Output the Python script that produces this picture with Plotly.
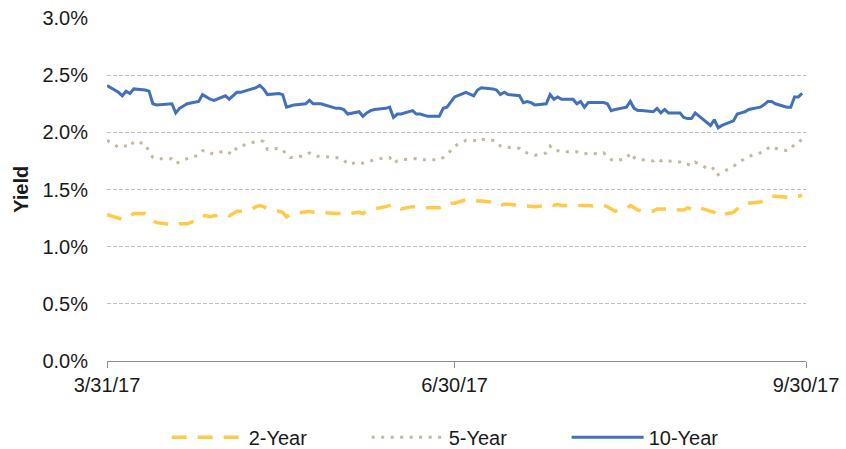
import plotly.graph_objects as go

# ---- trading days (3/31/17 - 9/29/17) ----
mar_days = [31]
apr_days = [3, 4, 5, 6, 7, 10, 11, 12, 13, 17, 18, 19, 20, 21, 24, 25, 26, 27, 28]
may_days = [1, 2, 3, 4, 5, 8, 9, 10, 11, 12, 15, 16, 17, 18, 19, 22, 23, 24, 25, 26, 30, 31]
jun_days = [1, 2, 5, 6, 7, 8, 9, 12, 13, 14, 15, 16, 19, 20, 21, 22, 23, 26, 27, 28, 29, 30]
jul_days = [3, 5, 6, 7, 10, 11, 12, 13, 14, 17, 18, 19, 20, 21, 24, 25, 26, 27, 28, 31]
aug_days = [1, 2, 3, 4, 7, 8, 9, 10, 11, 14, 15, 16, 17, 18, 21, 22, 23, 24, 25, 28, 29, 30, 31]
sep_days = [1, 5, 6, 7, 8, 11, 12, 13, 14, 15, 18, 19, 20, 21, 22, 25, 26, 27, 28, 29]

dates = []
for m, days in [(3, mar_days), (4, apr_days), (5, may_days), (6, jun_days),
                (7, jul_days), (8, aug_days), (9, sep_days)]:
    dates += [f"2017-{m:02d}-{d:02d}" for d in days]

# ---- yields (%) ----
y2 = [1.28,
      1.25, 1.24, 1.25, 1.26, 1.29, 1.29, 1.27, 1.23, 1.21, 1.20, 1.19, 1.20, 1.20, 1.20, 1.24, 1.27, 1.27, 1.26, 1.27,
      1.28, 1.27, 1.29, 1.31, 1.31, 1.33, 1.35, 1.36, 1.35, 1.33, 1.31, 1.30, 1.26, 1.28, 1.29, 1.30, 1.31, 1.30, 1.30, 1.30, 1.29, 1.29,
      1.29, 1.29, 1.30, 1.29, 1.31, 1.32, 1.33, 1.35, 1.36, 1.37, 1.35, 1.33, 1.35, 1.35, 1.35, 1.34, 1.34, 1.34, 1.36, 1.36, 1.38, 1.38,
      1.41, 1.41, 1.40, 1.40, 1.39, 1.38, 1.36, 1.37, 1.37, 1.36, 1.36, 1.35, 1.35, 1.35, 1.36, 1.37, 1.36, 1.37, 1.36, 1.36,
      1.36, 1.36, 1.36, 1.36, 1.35, 1.36, 1.35, 1.33, 1.31, 1.33, 1.36, 1.34, 1.32, 1.31, 1.31, 1.33, 1.33, 1.33, 1.33, 1.32, 1.32, 1.34, 1.33,
      1.35, 1.31, 1.30, 1.27, 1.28, 1.30, 1.33, 1.36, 1.37, 1.38, 1.39, 1.40, 1.43, 1.44, 1.44, 1.43, 1.43, 1.44, 1.44, 1.45]

y5 = [1.93,
      1.87, 1.88, 1.88, 1.87, 1.92, 1.90, 1.83, 1.78, 1.77, 1.77, 1.73, 1.74, 1.76, 1.77, 1.80, 1.84, 1.84, 1.82, 1.81,
      1.84, 1.82, 1.81, 1.87, 1.88, 1.91, 1.92, 1.93, 1.92, 1.85, 1.86, 1.85, 1.80, 1.78, 1.78, 1.80, 1.82, 1.80, 1.79, 1.79, 1.78, 1.77,
      1.76, 1.72, 1.74, 1.73, 1.74, 1.75, 1.76, 1.78, 1.78, 1.73, 1.75, 1.76, 1.77, 1.77, 1.76, 1.76, 1.76, 1.76, 1.78, 1.81, 1.84, 1.88,
      1.93, 1.93, 1.92, 1.94, 1.93, 1.92, 1.88, 1.88, 1.87, 1.86, 1.83, 1.82, 1.81, 1.80, 1.82, 1.88, 1.84, 1.84, 1.83, 1.83,
      1.83, 1.82, 1.81, 1.82, 1.81, 1.82, 1.79, 1.76, 1.75, 1.77, 1.82, 1.78, 1.76, 1.76, 1.75, 1.77, 1.75, 1.76, 1.75, 1.74, 1.72, 1.72, 1.71,
      1.74, 1.67, 1.69, 1.63, 1.65, 1.70, 1.73, 1.75, 1.77, 1.79, 1.82, 1.83, 1.86, 1.88, 1.86, 1.84, 1.85, 1.90, 1.91, 1.94]

y10 = [2.41,
       2.35, 2.32, 2.36, 2.34, 2.38, 2.37, 2.36, 2.25, 2.24, 2.25, 2.17, 2.21, 2.23, 2.25, 2.27, 2.33, 2.31, 2.29, 2.28,
       2.32, 2.29, 2.32, 2.35, 2.35, 2.38, 2.39, 2.41, 2.38, 2.33, 2.34, 2.33, 2.22, 2.23, 2.24, 2.25, 2.28, 2.25, 2.25, 2.25, 2.21, 2.21,
       2.20, 2.16, 2.18, 2.14, 2.17, 2.19, 2.20, 2.21, 2.22, 2.13, 2.16, 2.16, 2.19, 2.16, 2.16, 2.15, 2.14, 2.14, 2.21, 2.22, 2.27, 2.31,
       2.35, 2.32, 2.37, 2.39, 2.38, 2.37, 2.33, 2.35, 2.33, 2.32, 2.26, 2.27, 2.26, 2.24, 2.25, 2.33, 2.29, 2.31, 2.29, 2.29,
       2.25, 2.27, 2.22, 2.26, 2.26, 2.26, 2.25, 2.19, 2.20, 2.22, 2.27, 2.21, 2.19, 2.19, 2.18, 2.21, 2.17, 2.20, 2.17, 2.17, 2.13, 2.12, 2.12,
       2.17, 2.06, 2.11, 2.04, 2.06, 2.10, 2.16, 2.17, 2.18, 2.20, 2.22, 2.24, 2.27, 2.27, 2.25, 2.22, 2.22, 2.31, 2.31, 2.34]

series_names = ["2-Year", "5-Year", "10-Year"]
x_tick_vals = ["2017-03-31", "2017-06-30", "2017-09-30"]
x_tick_text = ["3/31/17", "6/30/17", "9/30/17"]
y_tick_vals = [0.0, 0.5, 1.0, 1.5, 2.0, 2.5, 3.0]
y_tick_text = ["0.0%", "0.5%", "1.0%", "1.5%", "2.0%", "2.5%", "3.0%"]
y_title = "Yield"

FONT = "Liberation Sans, Arial, sans-serif"

fig = go.Figure()
fig.add_trace(go.Scatter(x=dates, y=y2, name=series_names[0], mode="lines",
                         line=dict(color="#FFC94A", width=3.5, dash="15px,11px")))
fig.add_trace(go.Scatter(x=dates, y=y5, name=series_names[1], mode="lines",
                         line=dict(color="#C6B7A0", width=3, dash="3px,6.5px")))
fig.add_trace(go.Scatter(x=dates, y=y10, name=series_names[2], mode="lines",
                         line=dict(color="#4270BA", width=3)))

fig.update_layout(
    width=846, height=449,
    margin=dict(l=107, r=40, t=18, b=88, autoexpand=False),
    paper_bgcolor="white", plot_bgcolor="white",
    font=dict(family=FONT, size=20, color="#1a1a1a"),
    showlegend=True,
    legend=dict(orientation="h", xref="container", x=0.197, xanchor="left",
                y=-0.222, yanchor="middle",
                font=dict(size=20), itemwidth=72, entrywidth=113, entrywidthmode="pixels",
                traceorder="normal", bgcolor="rgba(0,0,0,0)"),
    xaxis=dict(type="date", range=["2017-03-31", "2017-09-30"],
               tickvals=x_tick_vals, ticktext=x_tick_text,
               showgrid=False, showline=True, linecolor="#8C8C8C", linewidth=1,
               ticks="outside", ticklen=6, tickcolor="#8C8C8C", zeroline=False,
               tickfont=dict(size=20)),
    yaxis=dict(range=[0, 3], tickvals=y_tick_vals, ticktext=y_tick_text,
               showgrid=True, gridcolor="#C0C0C0", gridwidth=1, griddash="4px,2px",
               showline=False, zeroline=False, ticks="", ticklabelstandoff=18,
               tickfont=dict(size=20)),
    annotations=[dict(text=f"<b>{y_title}</b>", xref="paper", yref="paper",
                      x=-0.124, y=0.5, xanchor="center", yanchor="middle",
                      textangle=-90, showarrow=False, font=dict(size=20))],
)

fig.write_html("out.html", config={"displayModeBar": False},
               post_script="document.body.style.margin='0';")
